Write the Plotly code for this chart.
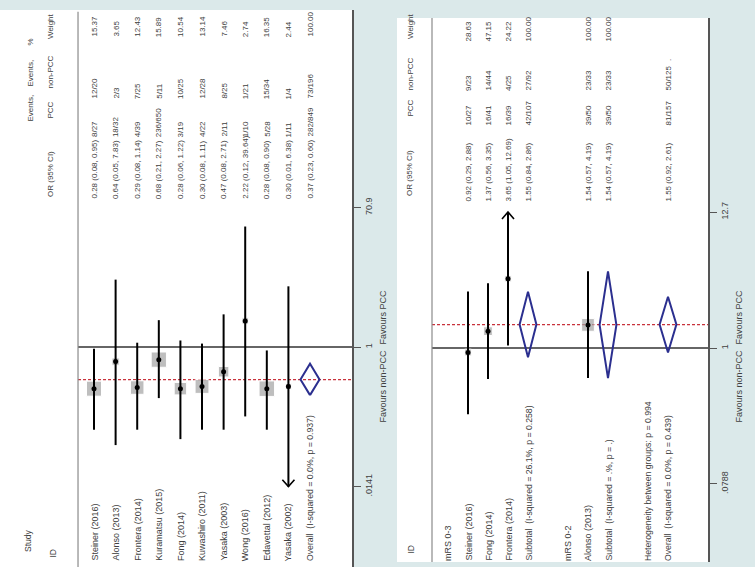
import math
import plotly.graph_objects as go

W, H = 755, 567
FONT = "Liberation Sans, Arial, sans-serif"
TXT = "#404040"
BG = "#dbe9ea"
BOX = "#a3a3a3"
DIAM = "#2b2f8f"
REF = "#c8323c"
COL = 8  # font size of the numeric columns

# ---------------- all-studies panel ----------------
studies = ["Steiner (2016)", "Alonso (2013)", "Frontera (2014)", "Kuramatsu (2015)",
           "Fong (2014)", "Kuwashiro (2011)", "Yasaka (2003)", "Wong (2016)",
           "Edavettal (2012)", "Yasaka (2002)"]
or_est = [0.28, 0.64, 0.29, 0.68, 0.28, 0.30, 0.47, 2.22, 0.28, 0.30]
or_lo = [0.08, 0.05, 0.08, 0.21, 0.06, 0.08, 0.08, 0.12, 0.08, 0.01]
or_hi = [0.95, 7.83, 1.14, 2.27, 1.22, 1.11, 2.71, 39.64, 0.90, 6.38]
ev_pcc = ["8/27", "18/32", "4/39", "236/650", "3/19", "4/22", "2/11", "1/10", "5/28", "1/11"]
ev_non = ["12/20", "2/3", "7/25", "5/11", "10/25", "12/28", "8/25", "1/21", "15/34", "1/4"]
weight = [15.37, 3.65, 12.43, 15.89, 10.54, 13.14, 7.46, 2.74, 16.35, 2.44]
overall_label = "Overall  (I-squared = 0.0%, p = 0.937)"
overall_or = (0.37, 0.23, 0.60)
overall_ev = ("282/849", "73/196")
overall_w = "100.00"
ticks_a = [0.0141, 1, 70.9]
ticktext_a = [".0141", "1", "70.9"]

# ---------------- mRS subgroup panel ----------------
groups = ["mRS 0-3", "mRS 0-2"]
g_studies = [["Steiner (2016)", "Fong (2014)", "Frontera (2014)"], ["Alonso (2013)"]]
g_est = [[0.92, 1.37, 3.65], [1.54]]
g_lo = [[0.29, 0.56, 1.05], [0.57]]
g_hi = [[2.88, 3.35, 12.69], [4.19]]
g_pcc = [["10/27", "16/41", "16/39"], ["39/50"]]
g_non = [["9/23", "14/44", "4/25"], ["23/33"]]
g_w = [[28.63, 47.15, 24.22], [100.00]]
sub_labels = ["Subtotal  (I-squared = 26.1%, p = 0.258)", "Subtotal  (I-squared = .%, p = .)"]
sub_or = [(1.55, 0.84, 2.86), (1.54, 0.57, 4.19)]
sub_pcc = ["42/107", "39/50"]
sub_non = ["27/92", "23/33"]
sub_w = ["100.00", "100.00"]
het_label = "Heterogeneity between groups: p = 0.994"
overall2_label = "Overall  (I-squared = 0.0%, p = 0.439)"
overall2_or = (1.55, 0.92, 2.61)
overall2_ev = ("81/157", "50/125")
overall2_w = "."
ticks_b = [0.0788, 1, 12.7]
ticktext_b = [".0788", "1", "12.7"]


def fmt_or(e, l, h):
    return f"{e:.2f} ({l:.2f}, {h:.2f})"


def py(p):
    return 1 - p / H


fig = go.Figure()
ann = []


def text(x, y, s, xref, size=9, anchor="bottom"):
    ann.append(dict(x=x, y=y, xref=xref, yref="paper", text=s, textangle=-90,
                    showarrow=False, xanchor="center", yanchor=anchor, borderpad=0,
                    font=dict(family=FONT, size=size, color=TXT)))


def forest(xa, ya, rows, est, lo, hi, w, box_k, lim, arrow_dx, arrow_dy):
    lo_lim, hi_lim = lim
    xs, ys = [], []
    heads_x, heads_y = [], []
    for r, l, h in zip(rows, lo, hi):
        l_c = max(l, lo_lim)
        h_c = min(h, hi_lim)
        xs += [r, r, None]
        ys += [l_c, h_c, None]
        if l <= lo_lim:
            base = 10 ** (math.log10(lo_lim) + arrow_dy)
            heads_x += [r - arrow_dx, r, r + arrow_dx, None]
            heads_y += [base, lo_lim, base, None]
        if round(h, 1) >= hi_lim:
            base = 10 ** (math.log10(hi_lim) - arrow_dy)
            heads_x += [r - arrow_dx, r, r + arrow_dx, None]
            heads_y += [base, hi_lim, base, None]
    fig.add_trace(go.Scatter(x=rows, y=est, xaxis=xa, yaxis=ya, mode="markers",
                             marker=dict(symbol="square", color=BOX,
                                         size=[box_k * math.sqrt(v) for v in w]),
                             hoverinfo="skip", showlegend=False))
    fig.add_trace(go.Scatter(x=xs, y=ys, xaxis=xa, yaxis=ya, mode="lines",
                             line=dict(color="black", width=2),
                             hoverinfo="skip", showlegend=False))
    if heads_x:
        fig.add_trace(go.Scatter(x=heads_x, y=heads_y, xaxis=xa, yaxis=ya, mode="lines",
                                 line=dict(color="black", width=1.6),
                                 hoverinfo="skip", showlegend=False))
    fig.add_trace(go.Scatter(x=rows, y=est, xaxis=xa, yaxis=ya, mode="markers",
                             marker=dict(symbol="circle", color="black", size=5),
                             hoverinfo="skip", showlegend=False))


def diamond(xa, ya, r, e, l, h, half):
    fig.add_trace(go.Scatter(x=[r, r + half, r, r - half, r], y=[l, e, h, e, l],
                             xaxis=xa, yaxis=ya, mode="lines",
                             line=dict(color=DIAM, width=2),
                             hoverinfo="skip", showlegend=False))


def ref_lines(xa, ya, x0, x1, overall_est):
    fig.add_trace(go.Scatter(x=[x0, x1], y=[1, 1], xaxis=xa, yaxis=ya, mode="lines",
                             line=dict(color="#333333", width=1.3),
                             hoverinfo="skip", showlegend=False))
    fig.add_trace(go.Scatter(x=[x0, x1], y=[overall_est, overall_est], xaxis=xa, yaxis=ya,
                             mode="lines", line=dict(color=REF, width=1.2, dash="3px,2px"),
                             hoverinfo="skip", showlegend=False))


# ---------- panel A (rows in index units) ----------
xa_range = [-4.352, 11.944]
sep_a = -0.74
rows_a = list(range(len(studies)))
row_ov_a = len(studies)

ref_lines("x", "y", sep_a, xa_range[1], overall_or[0])
forest("x", "y", rows_a, or_est, or_lo, or_hi, weight, 3.83,
       (ticks_a[0], ticks_a[-1]), 0.28, 0.09)
diamond("x", "y", row_ov_a, *overall_or, 0.44)

for i, s in enumerate(studies):
    text(i, py(562), s, "x")
    text(i, py(200), fmt_or(or_est[i], or_lo[i], or_hi[i]), "x", COL)
    text(i, py(138), ev_pcc[i], "x", COL)
    text(i, py(100), ev_non[i], "x", COL)
    text(i, py(38), f"{weight[i]:.2f}", "x", COL)
text(row_ov_a, py(562), overall_label, "x", 8.7)
text(row_ov_a, py(200), fmt_or(*overall_or), "x", COL)
text(row_ov_a, py(138), overall_ev[0], "x", COL)
text(row_ov_a, py(100), overall_ev[1], "x", COL)
text(row_ov_a, py(38), overall_w, "x", COL)

# column headers, panel A
text(28 / W, py(553), "Study", "paper", 8.5)
text(52 / W, py(559), "ID", "paper", 8.5)
text(30 / W, py(123), "Events,", "paper", COL)
text(30 / W, py(88), "Events,", "paper", COL)
text(30 / W, py(47), "%", "paper", COL)
text(50 / W, py(198), "OR (95% CI)", "paper", COL)
text(50 / W, py(120), "PCC", "paper", COL)
text(50 / W, py(90), "non-PCC", "paper", COL)
text(50 / W, py(40), "Weight", "paper", COL)
text(382 / W, py(349), "Favours non-PCC", "paper", 9, "top")
text(382 / W, py(346), "Favours PCC", "paper", 9, "bottom")

# ---------- panel B ----------
xb_range = [-2.55, 13.0]
sep_b = -0.8
row = 0
b_rows, b_est, b_lo, b_hi, b_w = [], [], [], [], []
sub_rows = []
for g, name in enumerate(groups):
    text(row, py(562), name, "x2")
    row += 1
    for j, s in enumerate(g_studies[g]):
        b_rows.append(row)
        b_est.append(g_est[g][j]); b_lo.append(g_lo[g][j]); b_hi.append(g_hi[g][j])
        b_w.append(g_w[g][j])
        text(row, py(562), s, "x2")
        text(row, py(203), fmt_or(g_est[g][j], g_lo[g][j], g_hi[g][j]), "x2", COL)
        text(row, py(127), g_pcc[g][j], "x2", COL)
        text(row, py(92), g_non[g][j], "x2", COL)
        text(row, py(43), f"{g_w[g][j]:.2f}", "x2", COL)
        row += 1
    sub_rows.append(row)
    text(row, py(562), sub_labels[g], "x2", 8.7)
    text(row, py(203), fmt_or(*sub_or[g]), "x2", COL)
    text(row, py(127), sub_pcc[g], "x2", COL)
    text(row, py(92), sub_non[g], "x2", COL)
    text(row, py(43), sub_w[g], "x2", COL)
    row += 2
text(row, py(562), het_label, "x2", 8.7)
row += 1
row_ov_b = row
text(row_ov_b, py(562), overall2_label, "x2", 8.7)
text(row_ov_b, py(203), fmt_or(*overall2_or), "x2", COL)
text(row_ov_b, py(127), overall2_ev[0], "x2", COL)
text(row_ov_b, py(92), overall2_ev[1], "x2", COL)
text(row_ov_b, py(62), overall2_w, "x2", COL)

ref_lines("x2", "y2", sep_b, xb_range[1], overall2_or[0])
forest("x2", "y2", b_rows, b_est, b_lo, b_hi, b_w, 1.27,
       (ticks_b[0], ticks_b[-1]), 0.3, 0.057)
for r, (e, l, h) in zip(sub_rows, sub_or):
    diamond("x2", "y2", r, e, l, h, 0.42)
diamond("x2", "y2", row_ov_b, *overall2_or, 0.42)

text(410 / W, py(555), "ID", "paper", 8.5)
text(410 / W, py(197), "OR (95% CI)", "paper", COL)
text(410 / W, py(118), "PCC", "paper", COL)
text(410 / W, py(92), "non-PCC", "paper", COL)
text(410 / W, py(40), "Weight", "paper", COL)
text(738 / W, py(349), "Favours non-PCC", "paper", 9, "top")
text(738 / W, py(346), "Favours PCC", "paper", 9, "bottom")

shapes = [
    dict(type="line", xref="x", yref="y domain", x0=sep_a, x1=sep_a, y0=0, y1=0.997,
         line=dict(color="#8a8a8a", width=1.2)),
    dict(type="line", xref="x2", yref="y2 domain", x0=sep_b, x1=sep_b, y0=0, y1=1,
         line=dict(color="#8a8a8a", width=1.2)),
]

yax = dict(type="log", side="right", showline=True, linecolor="#555555", linewidth=2,
           ticks="outside", ticklen=7, tickwidth=1.4, tickcolor="#555555",
           tickangle=-90, showgrid=False, zeroline=False,
           tickfont=dict(family=FONT, size=9, color=TXT))

fig.update_layout(
    width=W, height=H, margin=dict(l=0, r=0, t=0, b=0),
    paper_bgcolor=BG, plot_bgcolor="white", showlegend=False,
    xaxis=dict(domain=[0, 352 / W], range=xa_range, visible=False),
    yaxis=dict(domain=[0, 1 - 10 / H], range=[-2.918, 4.470], anchor="x",
               tickvals=ticks_a, ticktext=ticktext_a, **yax),
    xaxis2=dict(domain=[397 / W, 708 / W], range=xb_range, visible=False, anchor="y2"),
    yaxis2=dict(domain=[1 - 562 / H, 1 - 18 / H], range=[-1.737, 2.679], anchor="x2",
                tickvals=ticks_b, ticktext=ticktext_b, **yax),
    annotations=ann, shapes=shapes,
)

fig.write_html("out.html")
